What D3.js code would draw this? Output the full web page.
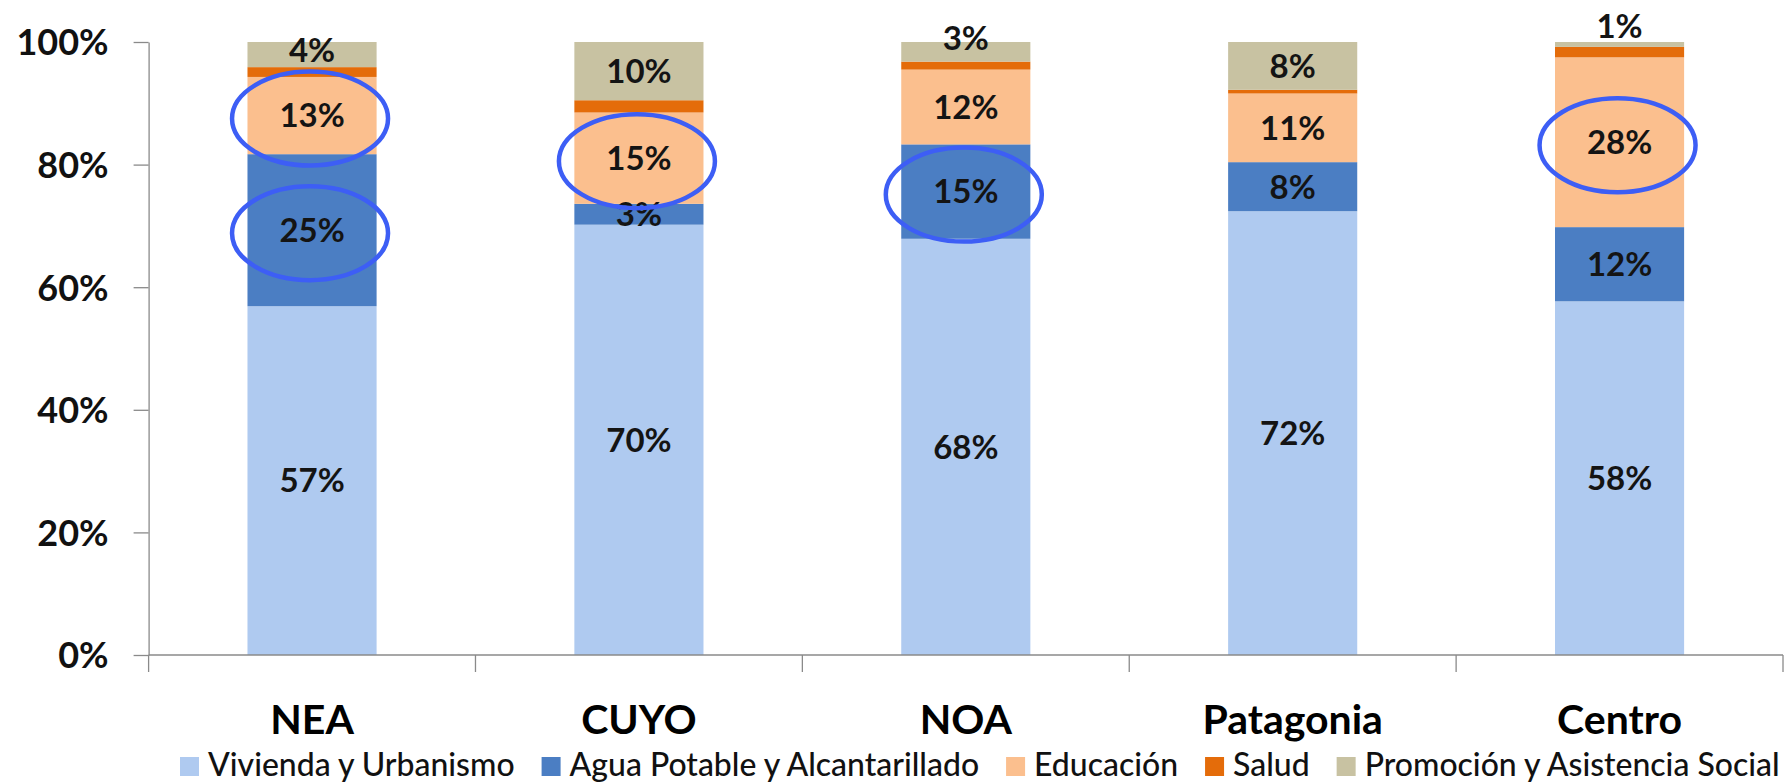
<!DOCTYPE html>
<html>
<head>
<meta charset="utf-8">
<script src="https://cdn.jsdelivr.net/npm/d3@7"></script>
<style>
  html, body { margin: 0; padding: 0; background: #ffffff; }
  svg { display: block; }
  text { font-family: Lato, "Open Sans", "Liberation Sans", sans-serif; }
</style>
</head>
<body>
<svg id="chart" width="1792" height="784"></svg>
<script>
// ---------------- data ----------------
const categories = ["NEA", "CUYO", "NOA", "Patagonia", "Centro"];
const seriesNames = ["Vivienda y Urbanismo", "Agua Potable y Alcantarillado", "Educación", "Salud", "Promoción y Asistencia Social"];
const vivienda  = [56.9, 70.2, 67.9, 72.4, 57.7];
const agua      = [24.8,  3.4, 15.4,  8.0, 12.1];
const educacion = [12.6, 14.9, 12.2, 11.2, 27.7];
const salud     = [ 1.6,  2.0,  1.3,  0.6,  1.7];
const promocion = [ 4.1,  9.5,  3.2,  7.8,  0.8];
const yTicks = [0, 20, 40, 60, 80, 100];
// series whose segment labels are not shown
const unlabeledSeries = ["Salud"];
// annotated (circled) labels
const highlights = [
  { category: "NEA",    series: "Educación" },
  { category: "NEA",    series: "Agua Potable y Alcantarillado" },
  { category: "CUYO",   series: "Educación" },
  { category: "NOA",    series: "Agua Potable y Alcantarillado" },
  { category: "Centro", series: "Educación" }
];

// ---------------- styles ----------------
const colors = ["#afcaf0", "#4b7ec3", "#fbbf8e", "#e46c0a", "#c8c2a2"];
const svg = d3.select("#chart");
const plot = { left: 148.6, right: 1783, top: 42, bottom: 655 };

const rows = categories.map((c, i) => ({
  category: c,
  [seriesNames[0]]: vivienda[i],
  [seriesNames[1]]: agua[i],
  [seriesNames[2]]: educacion[i],
  [seriesNames[3]]: salud[i],
  [seriesNames[4]]: promocion[i]
}));

const stacked = d3.stack().keys(seriesNames)(rows);

const x = d3.scaleBand().domain(categories).range([plot.left, plot.right]).padding(0);
const y = d3.scaleLinear().domain([0, 100]).range([plot.bottom, plot.top]);
const color = d3.scaleOrdinal().domain(seriesNames).range(colors);
const barW = x.bandwidth() * 0.395;

// ---------------- bars ----------------
const layers = svg.append("g").selectAll("g")
  .data(stacked).join("g")
  .attr("fill", d => color(d.key));

layers.selectAll("rect")
  .data(d => d.map(v => ({ v, key: d.key })))
  .join("rect")
  .attr("x", d => x(d.v.data.category) + (x.bandwidth() - barW) / 2)
  .attr("width", barW)
  .attr("y", d => y(d.v[1]))
  .attr("height", d => y(d.v[0]) - y(d.v[1]));

// ---------------- axes ----------------
const axisColor = "#8a8a8a";
const yAxis = svg.append("g")
  .attr("transform", `translate(${plot.left},0)`)
  .call(d3.axisLeft(y).tickValues(yTicks).tickFormat(d => d + "%")
        .tickSize(15).tickSizeOuter(0).tickPadding(25));
yAxis.select(".domain").attr("stroke", axisColor).attr("stroke-width", 1.3);
yAxis.selectAll(".tick line").attr("stroke", axisColor).attr("stroke-width", 1.3);
yAxis.selectAll(".tick text")
  .attr("fill", "#111")
  .style("font-size", "36px")
  .style("font-weight", "bold")
  .attr("dy", "0.36em");

// x axis line
svg.append("line")
  .attr("x1", plot.left).attr("x2", plot.right)
  .attr("y1", y(0)).attr("y2", y(0))
  .attr("stroke", axisColor).attr("stroke-width", 1.3);

// category separators
const sepX = categories.map(c => x(c)).concat([x(categories[categories.length - 1]) + x.bandwidth()]);
svg.append("g").selectAll("line")
  .data(sepX).join("line")
  .attr("x1", d => d).attr("x2", d => d)
  .attr("y1", y(0)).attr("y2", y(0) + 17)
  .attr("stroke", axisColor).attr("stroke-width", 1.3);

// category labels
svg.append("g").selectAll("text")
  .data(categories).join("text")
  .attr("x", d => x(d) + x.bandwidth() / 2)
  .attr("y", 734)
  .attr("text-anchor", "middle")
  .attr("fill", "#000")
  .style("font-size", "41px")
  .style("font-weight", "bold")
  .text(d => d);

// ---------------- data labels ----------------
const topKey = seriesNames[seriesNames.length - 1];
function labelPos(d) {
  const y0 = y(d.v[0]), y1 = y(d.v[1]);
  let cy = (y0 + y1) / 2;
  if (d.key === topKey) {
    const h = y0 - y1;
    cy = cy - Math.max(0, 28 - h) * 1.6;
    cy = Math.max(cy, y(100) - 16);
  }
  return { cx: x(d.v.data.category) + x.bandwidth() / 2, cy };
}

const labelData = [];
stacked.forEach(layer => {
  if (unlabeledSeries.includes(layer.key)) return;
  layer.forEach(v => labelData.push({ v, key: layer.key }));
});

svg.append("g").selectAll("text")
  .data(labelData).join("text")
  .attr("x", d => labelPos(d).cx)
  .attr("y", d => labelPos(d).cy)
  .attr("dy", "0.36em")
  .attr("text-anchor", "middle")
  .attr("fill", "#141414")
  .style("font-size", "33px")
  .style("font-weight", "bold")
  .text(d => Math.round(d.v[1] - d.v[0]) + "%");

// ---------------- highlight ellipses ----------------
const hlData = highlights.map(h => {
  const layer = stacked.find(s => s.key === h.series);
  const v = layer[categories.indexOf(h.category)];
  return labelPos({ v, key: h.series });
});
svg.append("g").selectAll("ellipse")
  .data(hlData).join("ellipse")
  .attr("cx", d => d.cx - 2)
  .attr("cy", d => d.cy + 3)
  .attr("rx", 78)
  .attr("ry", 47)
  .attr("fill", "none")
  .attr("stroke", "#3d5ef5")
  .attr("stroke-width", 4.5);

// ---------------- legend ----------------
const legend = svg.append("g");
const sq = 19, sqGap = 9, itemGap = 27, legendBaseline = 776;
const items = legend.selectAll("g").data(seriesNames).join("g");
items.append("rect")
  .attr("width", sq).attr("height", sq)
  .attr("y", legendBaseline - sq)
  .attr("fill", d => color(d));
const texts = items.append("text")
  .attr("x", sq + sqGap)
  .attr("y", legendBaseline)
  .attr("fill", "#111")
  .style("font-size", "29px")
  .style("font-weight", "500")
  .text(d => d);

// fit total legend text width to the reference span
const targetText = 1352;
let total = 0;
texts.each(function () { total += this.getComputedTextLength(); });
const fs = 29 * targetText / total;
texts.style("font-size", fs + "px");
const widths = [];
texts.each(function () { widths.push(this.getComputedTextLength()); });
let cursor = 180;
items.attr("transform", (d, i) => {
  const t = `translate(${cursor},0)`;
  cursor += sq + sqGap + widths[i] + itemGap;
  return t;
});
</script>
</body>
</html>
